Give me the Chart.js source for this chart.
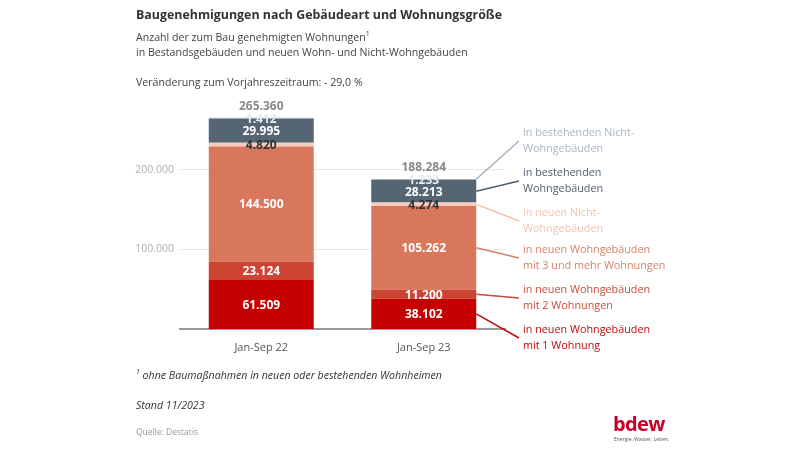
<!DOCTYPE html>
<html><head><meta charset="utf-8">
<script src="https://cdn.jsdelivr.net/npm/chart.js@4.4.0/dist/chart.umd.min.js"></script>
<style>
body{margin:0;width:800px;height:450px;overflow:hidden;background:#fff;font-family:"Open Sans",sans-serif;position:relative}
.t{position:absolute;left:136px;white-space:nowrap}
canvas{position:absolute;left:0;top:0}
</style></head><body>
<canvas id="c" width="800" height="450"></canvas>
<div class="t" style="top:7px;font-size:12.4px;font-weight:700;line-height:16px;color:#333">Baugenehmigungen nach Gebäudeart und Wohnungsgröße</div>
<div class="t" style="top:30px;font-size:10.6px;line-height:15px;color:#444">Anzahl der zum Bau genehmigten Wohnungen<sup style="font-size:7px;line-height:0">1</sup><br>in Bestandsgebäuden und neuen Wohn- und Nicht-Wohngebäuden</div>
<div class="t" style="top:74px;font-size:10.6px;line-height:16px;color:#444">Veränderung zum Vorjahreszeitraum: - 29,0 %</div>
<div class="t" style="top:367px;font-size:10.6px;line-height:16px;color:#333;font-style:italic"><sup style="font-size:7px;line-height:0">1</sup> ohne Baumaßnahmen in neuen oder bestehenden Wohnheimen</div>
<div class="t" style="top:397px;font-size:10.6px;line-height:16px;color:#333;font-style:italic">Stand 11/2023</div>
<div class="t" style="top:425px;font-size:8.5px;line-height:14px;color:#999">Quelle: Destatis</div>
<div style="position:absolute;left:613px;top:412px;font-size:20px;font-weight:700;color:#c4002b;line-height:24px;letter-spacing:-0.6px">bdew</div>
<div style="position:absolute;left:614px;top:436px;font-size:5px;color:#555;line-height:7px">Energie. Wasser. Leben.</div>
<script>
const categories = ['Jan-Sep 22', 'Jan-Sep 23'];
const newRes1 = [61509, 38102];
const newRes2 = [23124, 11200];
const newRes3plus = [144500, 105262];
const newNonRes = [4820, 4274];
const existingRes = [29995, 28213];
const existingNonRes = [1412, 1233];
const totals = [265360, 188284];
const yTicks = [100000, 200000];
const seriesLabels = [
  ['in neuen Wohngebäuden', 'mit 1 Wohnung'],
  ['in neuen Wohngebäuden', 'mit 2 Wohnungen'],
  ['in neuen Wohngebäuden', 'mit 3 und mehr Wohnungen'],
  ['in neuen Nicht-', 'Wohngebäuden'],
  ['in bestehenden', 'Wohngebäuden'],
  ['in bestehenden Nicht-', 'Wohngebäuden']
];
const barColors = ['#c40000', '#cb4532', '#d8775b', '#f6cdbd', '#556574', '#a7b4c0'];
const legendColors = ['#c20a0a', '#cc4a38', '#d9806a', '#f2c3b2', '#4f5e6c', '#a9b5c1'];
const valueLabelColors = ['#fff', '#fff', '#fff', '#333', '#fff', '#e6eaee'];
const legendCenters = [338, 298, 258, 221, 181, 141];

function fmt(v){ return String(v).replace(/\B(?=(\d{3})+(?!\d))/g, '.'); }

const seriesData = [newRes1, newRes2, newRes3plus, newNonRes, existingRes, existingNonRes];

const labelPlugin = {
  id: 'labels',
  afterDatasetsDraw(chart){
    const ctx = chart.ctx;
    ctx.save();
    ctx.textAlign = 'center';
    ctx.textBaseline = 'middle';
    ctx.font = 'bold 12px "Open Sans"';
    chart.data.datasets.forEach((ds, i) => {
      const meta = chart.getDatasetMeta(i);
      meta.data.forEach((el, j) => {
        const mid = (el.y + el.base) / 2;
        ctx.fillStyle = valueLabelColors[i];
        ctx.fillText(fmt(ds.data[j]), el.x, mid + 1);
      });
    });
    const topMeta = chart.getDatasetMeta(chart.data.datasets.length - 1);
    ctx.fillStyle = '#8a8a8a';
    topMeta.data.forEach((el, j) => {
      ctx.fillText(fmt(totals[j]), el.x, el.y - 11);
    });
    ctx.textAlign = 'left';
    ctx.font = '10.8px "Open Sans"';
    chart.data.datasets.forEach((ds, i) => {
      const el = chart.getDatasetMeta(i).data[1];
      const sx = el.x + el.width / 2;
      const sy = i === 5 ? el.y : (el.y + el.base) / 2;
      const ey = legendCenters[i];
      ctx.strokeStyle = legendColors[i];
      ctx.lineWidth = 1.5;
      ctx.beginPath();
      ctx.moveTo(sx, sy);
      ctx.lineTo(519, ey);
      ctx.stroke();
      ctx.fillStyle = legendColors[i];
      ctx.fillText(seriesLabels[i][0], 523, ey - 8);
      ctx.fillText(seriesLabels[i][1], 523, ey + 8);
    });
    ctx.restore();
  }
};

new Chart(document.getElementById('c'), {
  type: 'bar',
  data: {
    labels: categories,
    datasets: seriesData.map((d, i) => ({
      label: seriesLabels[i].join(' '),
      data: d,
      backgroundColor: barColors[i],
      borderWidth: 0,
      barPercentage: 0.646,
      categoryPercentage: 1
    }))
  },
  options: {
    responsive: false,
    animation: false,
    devicePixelRatio: 1,
    layout: { padding: { left: 130, right: 295, top: 114, bottom: 96 } },
    plugins: { legend: { display: false }, tooltip: { enabled: false } },
    scales: {
      x: {
        stacked: true,
        grid: { display: false },
        border: { color: '#9a9a9a', width: 2 },
        ticks: { color: '#555', font: { size: 11, family: 'Open Sans' }, padding: 4 },
        afterFit(s){ s.height = 25; }
      },
      y: {
        stacked: true,
        min: 0,
        max: 270000,
        afterBuildTicks(s){ s.ticks = yTicks.map(v => ({ value: v })); },
        grid: { color: '#e8e8e8', drawTicks: false, lineWidth: 1 },
        border: { display: false },
        ticks: { color: '#b0b0b0', font: { size: 10.5, family: 'Open Sans' }, padding: 6, callback: v => fmt(v) },
        afterFit(s){ s.width = 50; }
      }
    }
  },
  plugins: [labelPlugin]
});
</script>
</body></html>
